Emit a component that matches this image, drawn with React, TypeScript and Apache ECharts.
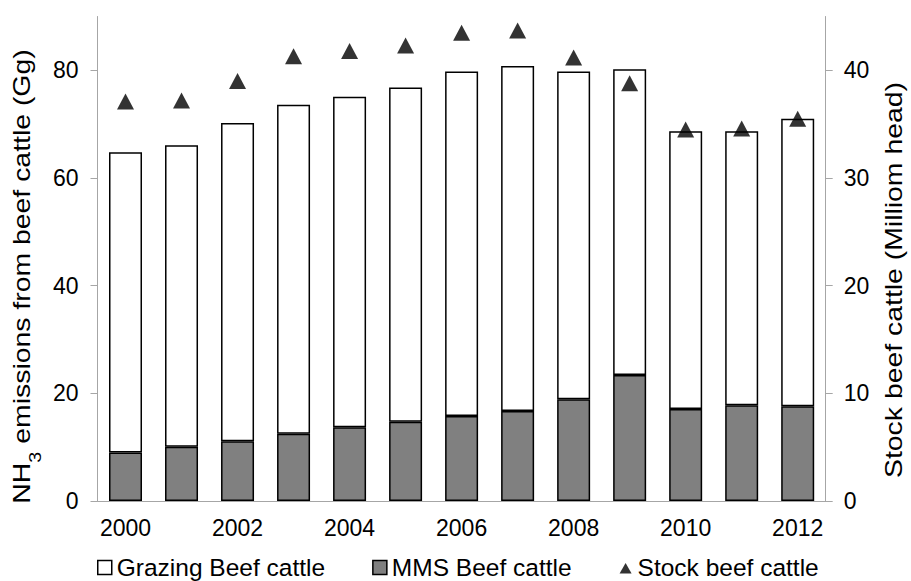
import React, { useEffect, useRef } from "react";
import * as echarts from "echarts";

const years = ["2000", "2001", "2002", "2003", "2004", "2005", "2006", "2007", "2008", "2009", "2010", "2011", "2012"];
const mmsBeef = [9.0, 10.1, 11.1, 12.5, 13.7, 14.7, 15.8, 16.7, 18.9, 23.4, 17.1, 17.8, 17.6];
const grazingBeef = [55.8, 56.0, 59.1, 61.1, 61.4, 62.1, 64.0, 64.1, 60.9, 56.8, 51.6, 50.9, 53.4];
const stockBeef = [37.1, 37.2, 39.0, 41.3, 41.8, 42.3, 43.5, 43.7, 41.2, 38.8, 34.5, 34.6, 35.5];
const leftTicks = [0, 20, 40, 60, 80];
const rightTicks = [0, 10, 20, 30, 40];

const FONT = "'Liberation Sans', Arial, sans-serif";
const AXIS_GRAY = "#a6a6a6";

export default function App() {
  const ref = useRef<HTMLDivElement>(null);
  useEffect(() => {
    if (!ref.current) return;
    const chart = echarts.init(ref.current, null, { renderer: "svg" });
    chart.setOption({
      animation: false,
      backgroundColor: "#ffffff",
      textStyle: { fontFamily: FONT, color: "#000" },
      grid: { left: 97.5, right: 85.3, top: 16.5, bottom: 80, containLabel: false },
      legend: {
        left: 97,
        top: 555,
        padding: 0,
        itemWidth: 14,
        itemHeight: 14,
        itemGap: 47,
        textStyle: { fontSize: 24.5, fontFamily: FONT, color: "#000" },
        data: [
          { name: "Grazing Beef cattle", icon: "rect", itemStyle: { color: "#ffffff", borderColor: "#000", borderWidth: 1.5 } },
          { name: "MMS Beef cattle", icon: "rect", itemStyle: { color: "#808080", borderColor: "#000", borderWidth: 1.5 } },
          { name: "Stock beef cattle", icon: "path://M0,0M14,14M1,13L7,2.5L13,13Z", itemStyle: { color: "#000", borderWidth: 0 } },
        ],
      },
      xAxis: {
        type: "category",
        data: years,
        axisLine: { lineStyle: { color: AXIS_GRAY, width: 1 } },
        axisTick: { show: false },
        axisLabel: { interval: 1, margin: 15, fontSize: 23, color: "#000", fontFamily: FONT },
        splitLine: { show: false },
      },
      yAxis: [
        {
          type: "value",
          min: 0,
          max: 90,
          position: "left",
          axisLine: { show: true, lineStyle: { color: AXIS_GRAY, width: 1 } },
          axisTick: { show: true, length: 7, lineStyle: { color: AXIS_GRAY }, customValues: leftTicks },
          axisLabel: { margin: 19, fontSize: 23, color: "#000", fontFamily: FONT, customValues: leftTicks },
          splitLine: { show: false },
        },
        {
          type: "value",
          min: 0,
          max: 45,
          position: "right",
          axisLine: { show: true, lineStyle: { color: AXIS_GRAY, width: 1 } },
          axisTick: { show: true, length: 7, lineStyle: { color: AXIS_GRAY }, customValues: rightTicks },
          axisLabel: { margin: 18, fontSize: 23, color: "#000", fontFamily: FONT, customValues: rightTicks },
          splitLine: { show: false },
        },
      ],
      graphic: [
        {
          type: "group",
          x: 21.5,
          y: 276.5,
          rotation: Math.PI / 2,
          scaleX: 1.235,
          children: [
            {
              type: "text",
              x: 0,
              y: 0,
              style: {
                text: "{a|NH}{b|3}{a| emissions from beef cattle (Gg)}",
                align: "center",
                verticalAlign: "middle",
                fill: "#000",
                fontFamily: FONT,
                fontSize: 23,
                rich: {
                  a: { fontSize: 23, fontFamily: FONT, fill: "#000" },
                  b: { fontSize: 16, fontFamily: FONT, fill: "#000", padding: [28, 0, 0, 0] },
                },
              },
            },
          ],
        },
        {
          type: "group",
          x: 894,
          y: 280,
          rotation: Math.PI / 2,
          scaleX: 1.235,
          children: [
            {
              type: "text",
              x: 0,
              y: 0,
              style: {
                text: "Stock beef cattle (Milliom head)",
                align: "center",
                verticalAlign: "middle",
                fill: "#000",
                fontFamily: FONT,
                fontSize: 23,
              },
            },
          ],
        },
      ],
      series: [
        {
          name: "MMS Beef cattle",
          type: "bar",
          stack: "total",
          barWidth: 33,
          data: mmsBeef,
          itemStyle: { color: "#808080", borderColor: "#000", borderWidth: 1.5 },
        },
        {
          name: "Grazing Beef cattle",
          type: "bar",
          stack: "total",
          barWidth: 33,
          data: grazingBeef,
          itemStyle: { color: "#ffffff", borderColor: "#000", borderWidth: 1.5 },
        },
        {
          name: "Stock beef cattle",
          type: "scatter",
          yAxisIndex: 1,
          symbol: "triangle",
          symbolSize: [17, 16],
          data: stockBeef,
          itemStyle: { color: "#000" },
          z: 5,
        },
      ],
    });
    return () => chart.dispose();
  }, []);
  return (
    <div
      ref={ref}
      style={{ position: "fixed", left: 0, top: 0, width: 911, height: 581, background: "#fff" }}
    />
  );
}
